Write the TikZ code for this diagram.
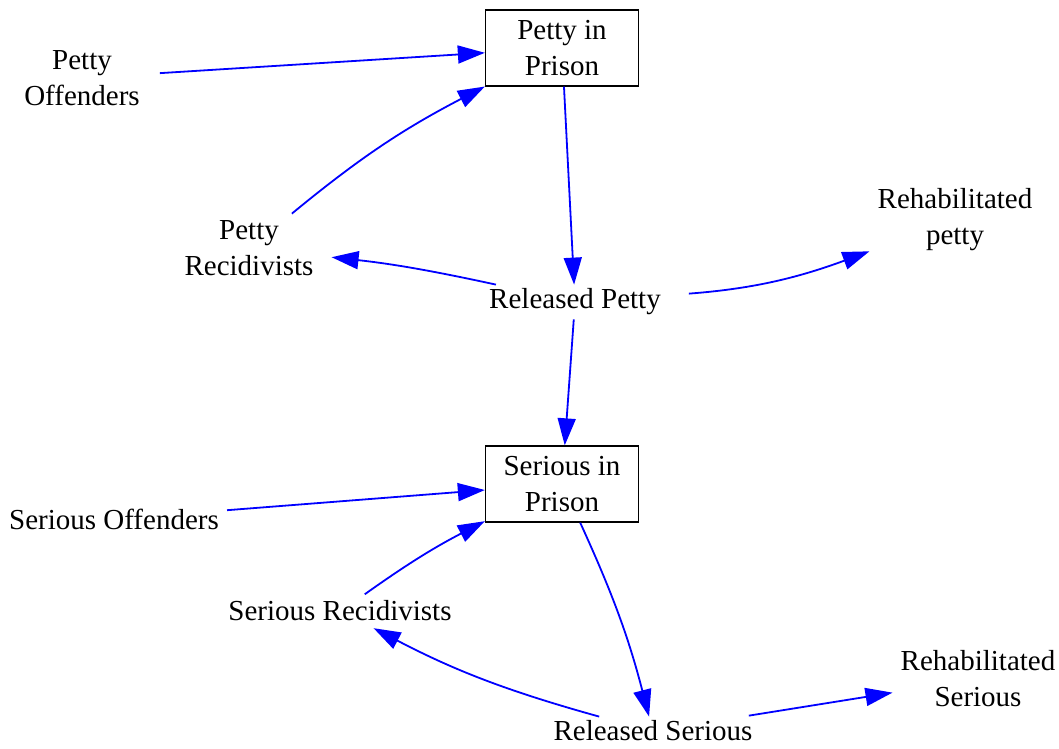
\documentclass[tikz,border=0pt]{standalone}
\usepackage{fontspec}
\setmainfont{Liberation Serif}
\usetikzlibrary{arrows.meta}
\begin{document}
\begin{tikzpicture}[x=1pt,y=1pt,
  var/.style={align=center,inner xsep=8pt,inner ysep=4pt,font=\fontsize{29}{36}\selectfont},
  stock/.style={var,draw,line width=1.3pt,minimum width=153pt,minimum height=76pt},
  flow/.style={blue,line width=1.8pt,-{Triangle[length=27pt,width=18pt]}}]
\useasboundingbox (0,0) rectangle (1059,748);
%stocks
\node[stock] (petprison) at (562,700) {Petty in\\Prison};
\node[stock] (serprison) at (562,264) {Serious in\\Prison};
%variables
\node[var] (petoff) at (82,670) {Petty\\Offenders};
\node[var] (petrecid) at (249,500) {Petty\\Recidivists};
\node[var] (relpetty) at (575,446) {Released Petty};
\node[var] (rehpetty) at (955,528) {Rehabilitated\\petty};
\node[var] (seroff) at (114,229) {Serious Offenders};
\node[var] (serrecid) at (340,137) {Serious Recidivists};
\node[var] (relserious) at (653,17) {Released Serious};
\node[var] (rehserious) at (978,69) {Rehabilitated\\Serious};
%arrows
\draw[flow,shorten <=12pt] (petoff) -- (petprison);
\draw[flow,shorten <=4pt] (petrecid) to[bend left=6] (petprison);
\draw[flow] (petprison) -- (relpetty);
\draw[flow,shorten >=10pt] (relpetty) to[bend right=3] (petrecid);
\draw[flow,shorten <=20pt] (relpetty) to[bend right=8] (rehpetty);
\draw[flow] (relpetty) -- (serprison);
\draw[flow] (seroff) -- (serprison);
\draw[flow,shorten <=4pt] (serrecid) to[bend left=4] (serprison);
\draw[flow] (serprison) to[bend left=5] (relserious);
\draw[flow,shorten >=6pt] (relserious) to[bend left=6] (serrecid);
\draw[flow,shorten <=6pt] (relserious) -- (rehserious);
\end{tikzpicture}
\end{document}
